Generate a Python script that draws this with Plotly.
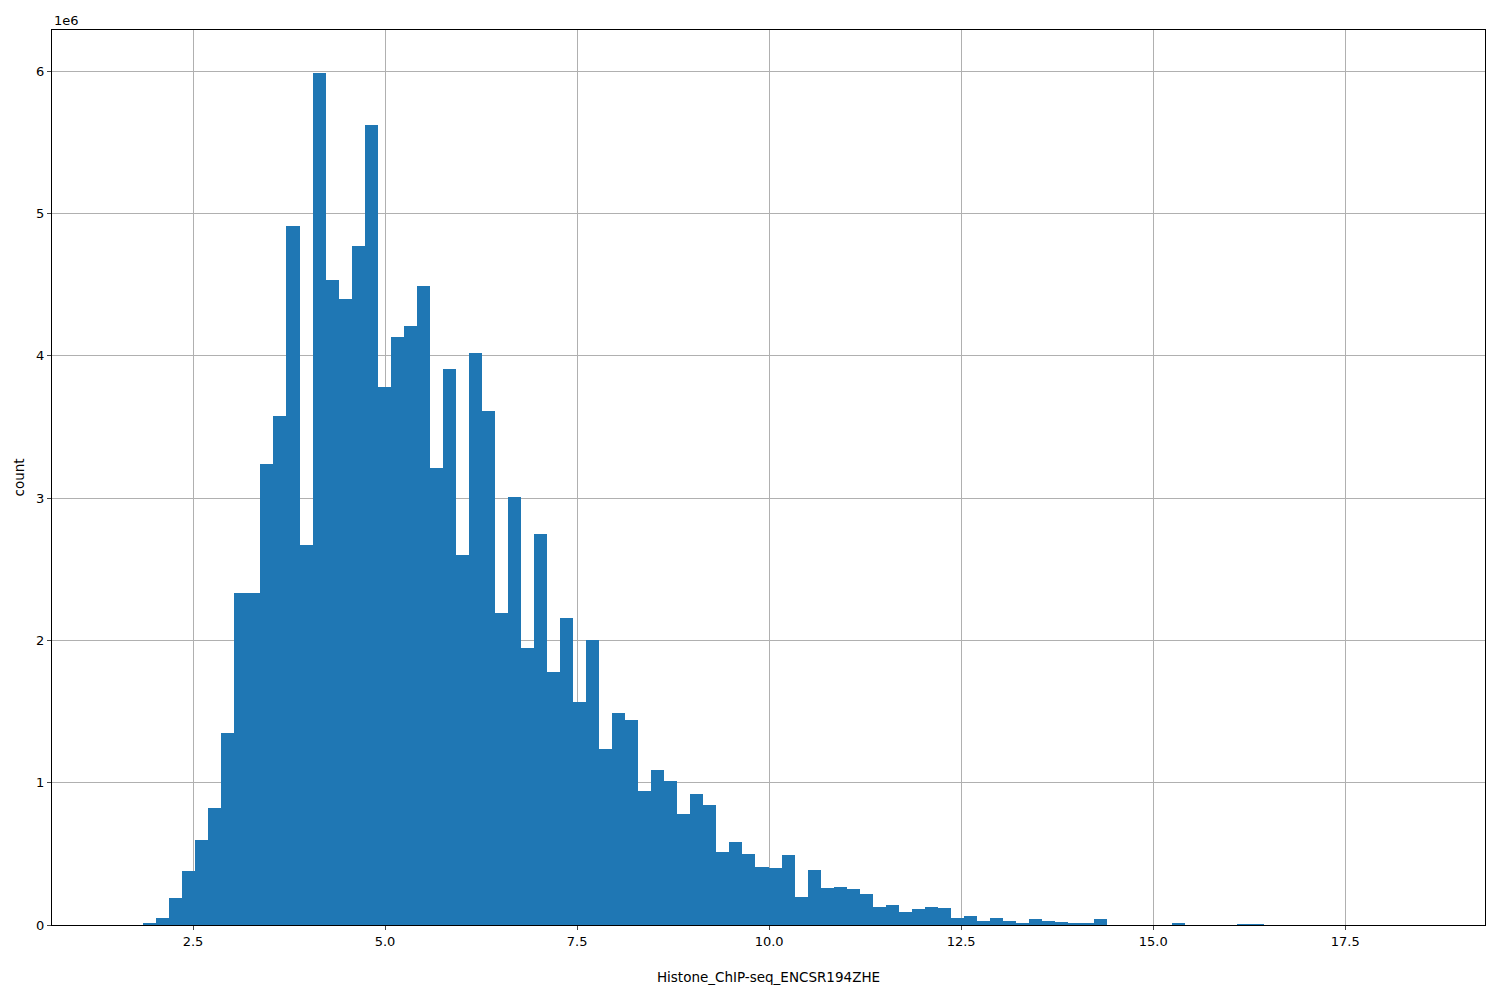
import plotly.graph_objects as go

bin_start = 1.512
bin_width = 0.1696
counts_m = [0, 0, 0.01, 0.05, 0.19, 0.38, 0.60, 0.82, 1.35, 2.33,
            2.33, 3.24, 3.58, 4.91, 2.67, 5.99, 4.53, 4.40, 4.77, 5.62,
            3.78, 4.13, 4.21, 4.49, 3.21, 3.91, 2.60, 4.02, 3.61, 2.19,
            3.01, 1.95, 2.75, 1.78, 2.16, 1.57, 2.00, 1.24, 1.49, 1.44,
            0.94, 1.09, 1.01, 0.78, 0.92, 0.84, 0.51, 0.58, 0.50, 0.41,
            0.40, 0.49, 0.20, 0.39, 0.26, 0.27, 0.25, 0.22, 0.13, 0.14,
            0.09, 0.11, 0.13, 0.12, 0.05, 0.06, 0.03, 0.05, 0.03, 0.015,
            0.04, 0.03, 0.02, 0.015, 0.015, 0.04, 0, 0, 0, 0,
            0, 0.008, 0, 0, 0, 0, 0.006, 0.005, 0, 0,
            0, 0, 0, 0, 0, 0, 0, 0, 0, 0]

centers = [bin_start + bin_width * (i + 0.5) for i in range(len(counts_m))]
counts = [c * 1e6 for c in counts_m]

fig = go.Figure(go.Bar(x=centers, y=counts, width=bin_width, marker=dict(color="#1f77b4", line=dict(width=0))))
ticks = [2.5, 5.0, 7.5, 10.0, 12.5, 15.0, 17.5]
fig.update_layout(
    width=1500, height=1000, plot_bgcolor="white", paper_bgcolor="white",
    margin=dict(l=44, r=23, t=22, b=83), showlegend=False, bargap=0,
    font=dict(family="DejaVu Sans", size=13, color="black"),
    xaxis=dict(range=[0.664, 19.32], tickvals=ticks, ticktext=[f"{t:.1f}" for t in ticks],
               showgrid=True, gridcolor="#b0b0b0", showline=True, linecolor="black", mirror=True,
               ticks="outside", ticklen=4, zeroline=False,
               title=dict(text="Histone_ChIP-seq_ENCSR194ZHE", standoff=24, font=dict(size=13.5))),
    yaxis=dict(range=[0, 6.29e6], tickvals=[i * 1e6 for i in range(7)], ticktext=[str(i) for i in range(7)],
               showgrid=True, gridcolor="#b0b0b0", showline=True, linecolor="black", mirror=True,
               ticks="outside", ticklen=4, zeroline=False, title=dict(text="count", standoff=8, font=dict(size=13.5))),
    annotations=[dict(text="1e6", xref="paper", yref="paper", x=0, y=1, xanchor="left", yanchor="bottom",
                      showarrow=False, font=dict(size=13))],
)
fig.write_html("out.html")
